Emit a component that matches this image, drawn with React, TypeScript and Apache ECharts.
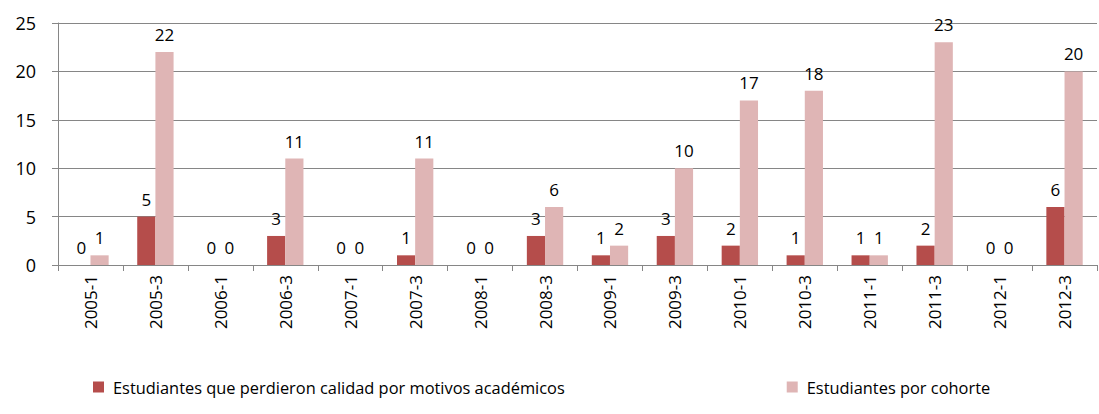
import React, { useEffect, useRef } from "react";
import * as echarts from "echarts";

const categories = ["2005-1","2005-3","2006-1","2006-3","2007-1","2007-3","2008-1","2008-3","2009-1","2009-3","2010-1","2010-3","2011-1","2011-3","2012-1","2012-3"];
const perdieron = [0,5,0,3,0,1,0,3,1,3,2,1,1,2,0,6];
const cohorte = [1,22,0,11,0,11,0,6,2,10,17,18,1,23,0,20];
const seriesNames = ["Estudiantes que perdieron calidad por motivos académicos", "Estudiantes por cohorte"];
const yTicks = { min: 0, max: 25, interval: 5 };

const FONT = "'Open Sans', 'Noto Sans', sans-serif";

export default function App() {
  const ref = useRef<HTMLDivElement>(null);
  useEffect(() => {
    const chart = echarts.init(ref.current!, null, { renderer: "svg" });
    const label = { show: true, position: "top", color: "#000", fontSize: 17, fontFamily: FONT, distance: 9 };
    chart.setOption({
      animation: false,
      grid: { left: 58, right: 2, top: 23, bottom: 149, containLabel: false },
      legend: {
        bottom: 14,
        left: 88,
        itemWidth: 11,
        itemHeight: 11,
        itemGap: 222,
        icon: "rect",
        textStyle: { fontSize: 16.4, fontFamily: FONT, color: "#000", padding: [0, 0, 0, 4] },
        data: seriesNames,
      },
      xAxis: {
        type: "category",
        data: categories,
        axisLine: { lineStyle: { color: "#868686", width: 1 } },
        axisTick: { show: true, length: 6, lineStyle: { color: "#868686" } },
        axisLabel: { rotate: 90, fontSize: 17, fontFamily: FONT, color: "#000", margin: 10, interval: 0 },
      },
      yAxis: {
        type: "value",
        min: yTicks.min,
        max: yTicks.max,
        interval: yTicks.interval,
        axisLine: { show: true, lineStyle: { color: "#868686" } },
        axisTick: { show: true, length: 6, lineStyle: { color: "#868686" } },
        axisLabel: { fontSize: 18, fontFamily: FONT, color: "#000", margin: 22 },
        splitLine: { lineStyle: { color: "#868686", width: 1 } },
      },
      series: [
        {
          name: seriesNames[0],
          type: "bar",
          data: perdieron,
          itemStyle: { color: "#B54D4B" },
          barGap: "0%",
          barCategoryGap: "44%",
          label,
        },
        {
          name: seriesNames[1],
          type: "bar",
          data: cohorte,
          itemStyle: { color: "#DFB5B5" },
          barGap: "0%",
          barCategoryGap: "44%",
          label,
        },
      ],
    });
    return () => chart.dispose();
  }, []);
  return <div ref={ref} style={{ width: 1099, height: 414, position: "absolute", left: 0, top: 0 }} />;
}
